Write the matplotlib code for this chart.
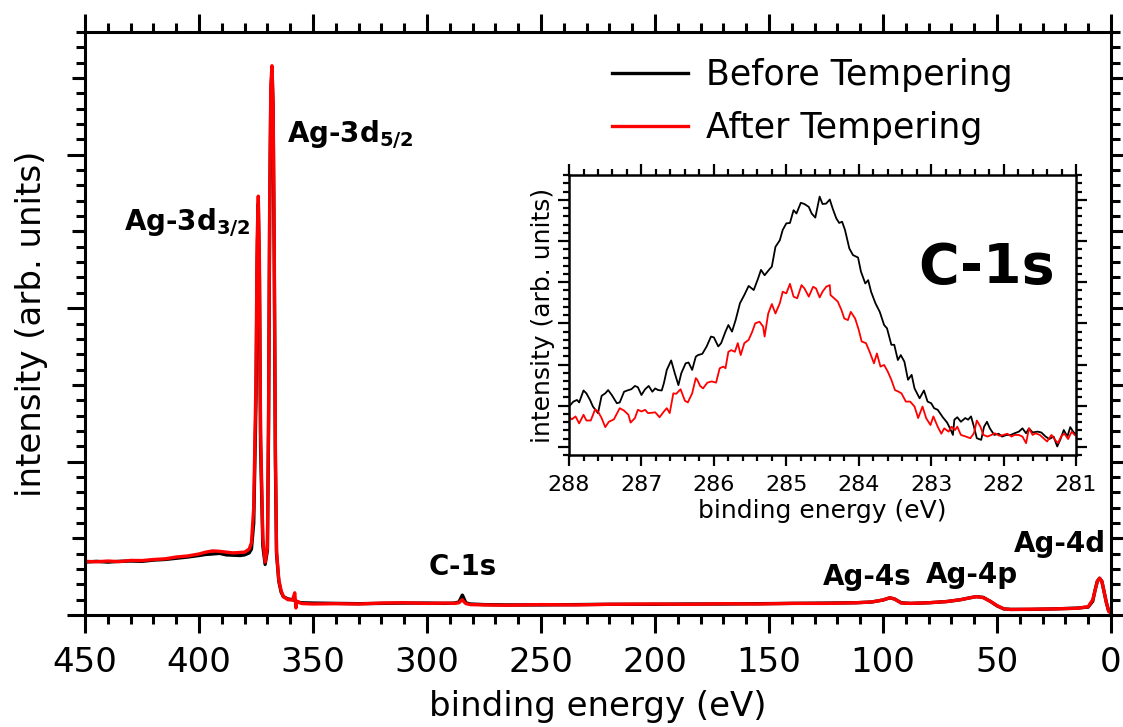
import matplotlib
matplotlib.use('Agg')
import matplotlib.pyplot as plt
from matplotlib.ticker import MultipleLocator, NullFormatter

plt.rcParams['font.family'] = 'DejaVu Sans'
plt.rcParams['mathtext.default'] = 'bf'

# survey spectrum (binding energy in eV, intensity in arb. units)
survey_be = [450, 445, 440, 435, 430, 425, 420, 415, 410, 405, 400, 397, 394, 391, 388, 385,
             382, 380, 378, 377, 376, 375, 374.5, 374, 373.5, 373, 372, 371, 370, 369.5, 369,
             368.5, 368, 367.5, 367, 366.5, 366, 365, 364, 363, 361, 359, 358, 357.5, 357, 355,
             350, 340, 330, 320, 310, 300, 292, 288, 286, 285, 284.5, 284, 283, 281, 275, 265,
             250, 235, 220, 200, 185, 170, 155, 140, 125, 112, 105, 100, 97, 95, 92, 88, 80, 72,
             66, 62, 59, 56, 53, 50, 47, 44, 35, 25, 15, 10, 8, 7, 6, 5, 4, 3, 2, 1, 0]
before_survey = [0.345, 0.350, 0.345, 0.350, 0.352, 0.350, 0.358, 0.362, 0.370, 0.378, 0.388,
                 0.395, 0.398, 0.402, 0.392, 0.390, 0.388, 0.392, 0.405, 0.43, 0.60, 1.40, 2.30,
                 2.68, 2.20, 1.10, 0.45, 0.33, 0.42, 1.2, 2.6, 3.40, 3.55, 3.30, 2.3, 1.0, 0.40,
                 0.22, 0.15, 0.12, 0.105, 0.10, 0.095, 0.09, 0.085, 0.08, 0.078, 0.076, 0.074,
                 0.076, 0.078, 0.078, 0.076, 0.078, 0.085, 0.115, 0.13, 0.115, 0.08, 0.072, 0.068,
                 0.066, 0.066, 0.068, 0.07, 0.07, 0.072, 0.072, 0.074, 0.076, 0.078, 0.08, 0.085,
                 0.098, 0.112, 0.105, 0.08, 0.076, 0.08, 0.088, 0.10, 0.112, 0.12, 0.115, 0.09,
                 0.06, 0.04, 0.037, 0.037, 0.04, 0.045, 0.052, 0.09, 0.16, 0.22, 0.24, 0.22, 0.15,
                 0.08, 0.025, 0.013]
after_survey = [0.350, 0.347, 0.352, 0.348, 0.356, 0.355, 0.362, 0.366, 0.378, 0.385, 0.398,
                0.410, 0.418, 0.415, 0.410, 0.405, 0.408, 0.410, 0.430, 0.47, 0.70, 1.55, 2.45,
                2.73, 2.30, 1.20, 0.50, 0.345, 0.44, 1.3, 2.7, 3.45, 3.58, 3.35, 2.4, 1.1, 0.42,
                0.23, 0.16, 0.12, 0.10, 0.098, 0.145, 0.046, 0.09, 0.075, 0.072, 0.074, 0.072,
                0.078, 0.080, 0.076, 0.078, 0.076, 0.080, 0.095, 0.10, 0.09, 0.075, 0.068, 0.066,
                0.064, 0.068, 0.066, 0.07, 0.072, 0.07, 0.074, 0.072, 0.076, 0.076, 0.08, 0.085,
                0.098, 0.113, 0.105, 0.078, 0.076, 0.08, 0.088, 0.10, 0.112, 0.12, 0.113, 0.09,
                0.062, 0.04, 0.036, 0.038, 0.04, 0.044, 0.054, 0.10, 0.16, 0.22, 0.24, 0.22, 0.15,
                0.08, 0.025, 0.013]

# C-1s detail
c1s_be_before = [288.00, 287.94, 287.89, 287.86, 287.80, 287.76, 287.71, 287.67, 287.60, 287.55,
                 287.50, 287.46, 287.41, 287.34, 287.30, 287.24, 287.18, 287.14, 287.09, 287.05,
                 287.00, 286.95, 286.90, 286.85, 286.81, 286.77, 286.72, 286.69, 286.65, 286.59,
                 286.54, 286.49, 286.45, 286.39, 286.35, 286.30, 286.25, 286.22, 286.16, 286.10,
                 286.04, 286.00, 285.94, 285.90, 285.84, 285.80, 285.75, 285.70, 285.64, 285.58,
                 285.52, 285.45, 285.39, 285.35, 285.30, 285.24, 285.20, 285.15, 285.09, 285.05,
                 285.00, 284.95, 284.90, 284.86, 284.80, 284.75, 284.69, 284.65, 284.60, 284.54,
                 284.50, 284.45, 284.40, 284.36, 284.31, 284.27, 284.23, 284.19, 284.13, 284.08,
                 284.01, 283.97, 283.91, 283.87, 283.83, 283.77, 283.71, 283.65, 283.61, 283.55,
                 283.51, 283.46, 283.42, 283.37, 283.32, 283.27, 283.23, 283.16, 283.10, 283.05,
                 283.00, 282.96, 282.91, 282.84, 282.78, 282.74, 282.70, 282.68, 282.64, 282.59,
                 282.53, 282.49, 282.45, 282.41, 282.37, 282.31, 282.27, 282.23, 282.19, 282.13,
                 282.07, 282.02, 281.96, 281.90, 281.85, 281.79, 281.74, 281.69, 281.65, 281.60,
                 281.53, 281.48, 281.42, 281.37, 281.31, 281.26, 281.21, 281.17, 281.12, 281.08,
                 281.04, 281.00]
c1s_before = [0.98, 1.10, 1.14, 1.08, 1.37, 1.30, 1.14, 0.98, 0.82, 1.24,
              1.30, 1.38, 1.26, 1.06, 1.08, 1.34, 1.38, 1.40, 1.48, 1.45,
              1.26, 1.40, 1.48, 1.34, 1.42, 1.38, 1.37, 1.55, 1.87, 2.10,
              1.79, 1.50, 1.79, 2.03, 2.05, 1.87, 2.19, 2.23, 2.26, 2.44,
              2.68, 2.66, 2.44, 2.52, 2.80, 2.96, 2.80, 3.08, 3.49, 3.69,
              3.91, 3.81, 4.09, 4.30, 4.17, 4.30, 4.38, 4.86, 5.02, 5.27,
              5.43, 5.44, 5.75, 5.67, 5.93, 5.90, 5.83, 5.67, 5.57, 6.08,
              5.90, 5.91, 6.01, 5.79, 5.55, 5.44, 5.47, 5.27, 4.82, 4.66,
              4.60, 4.26, 3.97, 4.05, 3.77, 3.49, 3.28, 2.96, 2.88, 2.48,
              2.48, 2.11, 2.23, 2.07, 1.63, 1.75, 1.42, 1.18, 1.37, 1.10,
              1.06, 0.94, 0.90, 0.72, 0.59, 0.45, 0.29, 0.66, 0.72, 0.61,
              0.70, 0.66, 0.74, 0.49, 0.21, 0.17, 0.49, 0.61, 0.45, 0.29,
              0.32, 0.25, 0.29, 0.29, 0.33, 0.37, 0.45, 0.33, 0.45, 0.35,
              0.37, 0.35, 0.25, 0.19, 0.25, 0.01, 0.21, 0.41, 0.25, 0.48,
              0.37, 0.30]
c1s_be_after = [288.00, 287.96, 287.91, 287.86, 287.80, 287.76, 287.70, 287.64, 287.60, 287.55,
                287.50, 287.45, 287.38, 287.30, 287.24, 287.18, 287.15, 287.09, 287.05, 287.00,
                286.95, 286.91, 286.85, 286.81, 286.75, 286.69, 286.65, 286.61, 286.56, 286.52,
                286.46, 286.40, 286.36, 286.30, 286.25, 286.23, 286.19, 286.15, 286.09, 286.03,
                285.97, 285.92, 285.87, 285.84, 285.80, 285.76, 285.71, 285.67, 285.63, 285.58,
                285.52, 285.47, 285.43, 285.37, 285.32, 285.30, 285.25, 285.20, 285.15, 285.09,
                285.05, 285.00, 284.95, 284.90, 284.85, 284.79, 284.75, 284.69, 284.63, 284.59,
                284.54, 284.50, 284.45, 284.40, 284.39, 284.34, 284.29, 284.24, 284.20, 284.15,
                284.11, 284.05, 284.00, 283.96, 283.90, 283.85, 283.79, 283.75, 283.70, 283.65,
                283.60, 283.55, 283.50, 283.45, 283.41, 283.35, 283.29, 283.23, 283.18, 283.12,
                283.07, 283.01, 282.97, 282.91, 282.86, 282.82, 282.76, 282.72, 282.67, 282.64,
                282.59, 282.52, 282.46, 282.41, 282.37, 282.32, 282.28, 282.22, 282.17, 282.12,
                282.06, 282.00, 281.95, 281.89, 281.85, 281.79, 281.74, 281.69, 281.65, 281.60,
                281.56, 281.50, 281.45, 281.40, 281.34, 281.29, 281.25, 281.20, 281.16, 281.11,
                281.06, 281.02]
c1s_after = [0.72, 0.67, 0.74, 0.57, 0.78, 0.64, 0.64, 0.91, 0.86, 0.70,
             0.48, 0.61, 0.67, 0.94, 0.88, 0.78, 0.59, 0.70, 0.90, 0.86,
             0.90, 0.82, 0.83, 0.84, 0.72, 0.86, 0.94, 0.82, 1.30, 1.29,
             1.40, 1.12, 1.08, 1.30, 1.67, 1.63, 1.48, 1.42, 1.56, 1.59,
             1.56, 1.91, 1.95, 1.91, 2.31, 2.35, 2.31, 2.52, 2.23, 2.52,
             2.60, 2.80, 3.00, 3.04, 2.92, 2.68, 3.24, 3.47, 3.24, 3.49,
             3.77, 3.73, 3.96, 3.65, 3.61, 3.93, 3.85, 3.65, 3.89, 3.85,
             3.63, 3.77, 3.89, 3.93, 3.69, 3.61, 3.53, 3.33, 3.12, 3.08,
             3.28, 3.12, 2.84, 2.56, 2.52, 2.31, 2.03, 2.27, 1.95, 1.99,
             1.83, 1.63, 1.38, 1.34, 1.30, 1.10, 1.10, 0.98, 0.70, 0.98,
             0.70, 0.53, 0.74, 0.49, 0.32, 0.45, 0.37, 0.49, 0.41, 0.49,
             0.29, 0.25, 0.21, 0.33, 0.64, 0.49, 0.29, 0.25, 0.29, 0.33,
             0.27, 0.29, 0.32, 0.25, 0.29, 0.29, 0.25, 0.09, 0.45, 0.29,
             0.33, 0.29, 0.21, 0.13, 0.29, 0.17, 0.09, 0.27, 0.32, 0.19,
             0.37, 0.29]

# peak labels
peak_labels = ['Ag-3d$_{5/2}$', 'Ag-3d$_{3/2}$', 'C-1s', 'Ag-4s', 'Ag-4p', 'Ag-4d']
peak_x = [361.4, 377.6, 284.2, 107, 61, 22.4]
peak_y = [3.13, 2.56, 0.31, 0.25, 0.26, 0.46]
peak_ha = ['left', 'right', 'center', 'center', 'center', 'center']

fig = plt.figure(figsize=(11.23, 7.27), dpi=100)
ax = fig.add_axes([0.0757, 0.154, 0.9136, 0.802])

ax.plot(survey_be, before_survey, color='black', lw=2.4, label='Before Tempering')
ax.plot(survey_be, after_survey, color='red', lw=2.4, label='After Tempering')
ax.set_xlim(450, 0)
ax.set_ylim(0, 3.8)
ax.xaxis.set_major_locator(MultipleLocator(50))
ax.xaxis.set_minor_locator(MultipleLocator(10))
ax.yaxis.set_major_locator(MultipleLocator(1))
ax.yaxis.set_minor_locator(MultipleLocator(0.1))
ax.tick_params(which='both', direction='out', top=True, right=True, width=2.2, labelleft=False)
ax.tick_params(which='major', length=13, labelsize=24.5, pad=9)
ax.tick_params(which='minor', length=6.5)
for s in ax.spines.values():
    s.set_linewidth(2.2)

# half-way ticks on the y axes
for side in ('left', 'right'):
    sec = ax.secondary_yaxis(side)
    sec.set_yticks([0.5, 1.5, 2.5, 3.5])
    sec.yaxis.set_major_formatter(NullFormatter())
    sec.tick_params(direction='out', length=9.5, width=2.2)
    for s in sec.spines.values():
        s.set_visible(False)

ax.set_xlabel('binding energy (eV)', fontsize=24.5, labelpad=8)
ax.set_ylabel('intensity (arb. units)', fontsize=24.5, labelpad=14)

for t, x, y, ha in zip(peak_labels, peak_x, peak_y, peak_ha):
    ax.text(x, y, t, fontsize=20, fontweight='bold', ha=ha, va='center')

ax.legend(loc='upper left', bbox_to_anchor=(0.5136, 0.955), frameon=False, fontsize=25,
          handlelength=2.2, handletextpad=0.5, borderpad=0, borderaxespad=0, labelspacing=0.55)

# inset
axin = fig.add_axes([0.5067, 0.374, 0.4515, 0.385])
axin.plot(c1s_be_before, c1s_before, color='black', lw=1.3)
axin.plot(c1s_be_after, c1s_after, color='red', lw=1.3)
axin.set_xlim(288, 281)
axin.set_ylim(-0.2, 6.6)
axin.xaxis.set_major_locator(MultipleLocator(1))
axin.xaxis.set_minor_locator(MultipleLocator(0.2))
axin.yaxis.set_major_locator(MultipleLocator(1))
axin.yaxis.set_minor_locator(MultipleLocator(0.2))
axin.tick_params(which='both', direction='out', top=True, right=True, width=1.6, labelleft=False)
axin.tick_params(which='major', length=8, labelsize=16, pad=6)
axin.tick_params(which='minor', length=4.3)
for s in axin.spines.values():
    s.set_linewidth(1.8)
axin.set_xlabel('binding energy (eV)', fontsize=18, labelpad=3)
axin.set_ylabel('intensity (arb. units)', fontsize=18, labelpad=2)
axin.text(0.824, 0.668, 'C-1s', transform=axin.transAxes, fontsize=40, fontweight='bold',
          ha='center', va='center')

fig.savefig('out.png', dpi=100)
